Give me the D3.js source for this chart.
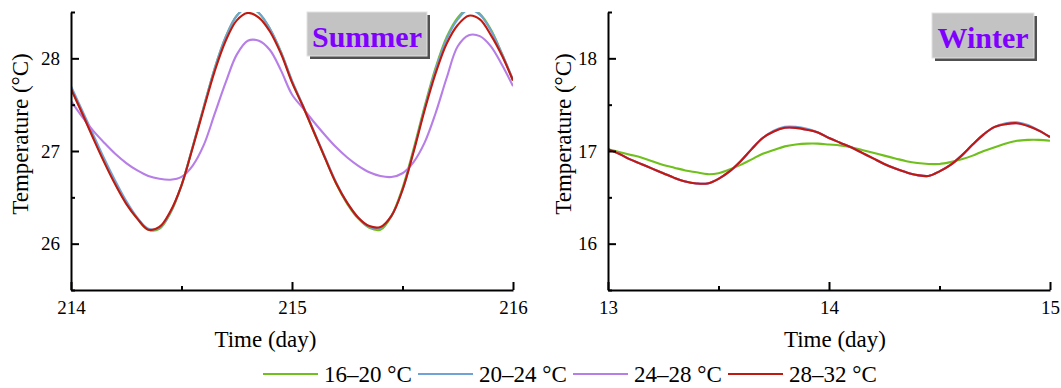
<!DOCTYPE html>
<html>
<head>
<meta charset="utf-8">
<script src="https://cdn.jsdelivr.net/npm/d3@7"></script>
<style>
  body { margin: 0; background: #fff; }
  svg { display: block; }
  text { font-family: "Liberation Serif", "Times New Roman", serif; fill: #000; }
</style>
</head>
<body>
<div id="app"></div>
<script>
const seriesNames = ["16\u201320 \u00b0C", "20\u201324 \u00b0C", "24\u201328 \u00b0C", "28\u201332 \u00b0C"];
const seriesColors = ["#6fc01c", "#6fa3d8", "#b67ee6", "#c01a10"];

// time grid, sampled every 0.05 day
const summerDays = d3.range(41).map(i => Math.round((214 + i * 0.05) * 100) / 100);
const winterDays = d3.range(41).map(i => Math.round((13 + i * 0.05) * 100) / 100);

const summer1620 = [27.68, 27.41, 27.15, 26.89, 26.65, 26.44, 26.27, 26.15, 26.16, 26.33, 26.63, 27.04, 27.47, 27.89, 28.23, 28.46, 28.55, 28.49, 28.32, 28.07, 27.75, 27.48, 27.20, 26.92, 26.65, 26.43, 26.27, 26.17, 26.15, 26.30, 26.60, 27.02, 27.48, 27.90, 28.23, 28.44, 28.54, 28.48, 28.31, 28.05, 27.76];
const summer2024 = [27.70, 27.44, 27.18, 26.92, 26.68, 26.46, 26.28, 26.16, 26.17, 26.34, 26.63, 27.04, 27.47, 27.89, 28.23, 28.46, 28.55, 28.49, 28.32, 28.07, 27.76, 27.49, 27.21, 26.93, 26.66, 26.44, 26.28, 26.18, 26.17, 26.30, 26.58, 27.00, 27.46, 27.88, 28.21, 28.42, 28.53, 28.47, 28.30, 28.05, 27.77];
const summer2428 = [27.54, 27.37, 27.22, 27.09, 26.97, 26.87, 26.79, 26.73, 26.70, 26.69, 26.72, 26.84, 27.06, 27.40, 27.74, 28.04, 28.19, 28.19, 28.09, 27.87, 27.61, 27.46, 27.31, 27.17, 27.04, 26.93, 26.84, 26.77, 26.73, 26.72, 26.76, 26.88, 27.09, 27.41, 27.79, 28.13, 28.25, 28.24, 28.13, 27.93, 27.70];
const summer2832 = [27.67, 27.41, 27.14, 26.88, 26.64, 26.43, 26.27, 26.15, 26.18, 26.35, 26.63, 27.03, 27.45, 27.86, 28.19, 28.41, 28.49, 28.44, 28.29, 28.05, 27.74, 27.48, 27.20, 26.92, 26.65, 26.44, 26.28, 26.19, 26.18, 26.30, 26.58, 26.99, 27.44, 27.84, 28.16, 28.36, 28.46, 28.42, 28.25, 28.03, 27.76];

const winter1620 = [17.02, 16.99, 16.96, 16.93, 16.89, 16.85, 16.82, 16.79, 16.77, 16.75, 16.76, 16.80, 16.85, 16.91, 16.97, 17.01, 17.05, 17.07, 17.08, 17.08, 17.07, 17.06, 17.04, 17.01, 16.98, 16.95, 16.92, 16.89, 16.87, 16.86, 16.86, 16.88, 16.91, 16.95, 17.00, 17.04, 17.08, 17.11, 17.12, 17.12, 17.11];
const winter2024 = [17.02, 16.97, 16.91, 16.86, 16.81, 16.76, 16.71, 16.67, 16.65, 16.65, 16.70, 16.78, 16.89, 17.02, 17.14, 17.22, 17.26, 17.26, 17.24, 17.20, 17.14, 17.09, 17.04, 16.98, 16.92, 16.86, 16.81, 16.77, 16.74, 16.73, 16.78, 16.85, 16.95, 17.07, 17.18, 17.26, 17.30, 17.31, 17.28, 17.22, 17.15];
const winter2428 = [17.02, 16.97, 16.91, 16.86, 16.81, 16.76, 16.71, 16.67, 16.65, 16.65, 16.70, 16.78, 16.89, 17.02, 17.14, 17.21, 17.25, 17.25, 17.23, 17.20, 17.14, 17.09, 17.04, 16.98, 16.92, 16.86, 16.81, 16.77, 16.74, 16.73, 16.78, 16.85, 16.95, 17.07, 17.18, 17.26, 17.29, 17.30, 17.27, 17.22, 17.15];
const winter2832 = [17.02, 16.97, 16.91, 16.86, 16.81, 16.76, 16.71, 16.67, 16.65, 16.65, 16.70, 16.78, 16.89, 17.02, 17.14, 17.21, 17.25, 17.25, 17.23, 17.20, 17.14, 17.09, 17.04, 16.98, 16.92, 16.86, 16.81, 16.77, 16.74, 16.73, 16.78, 16.85, 16.95, 17.07, 17.18, 17.26, 17.29, 17.30, 17.27, 17.22, 17.15];

const summerXTicks = [214, 215, 216];
const summerXMinor = [214.5, 215.5];
const summerYTicks = [26, 27, 28];
const summerYMinor = [25.5, 26.5, 27.5, 28.5];
const winterXTicks = [13, 14, 15];
const winterXMinor = [13.5, 14.5];
const winterYTicks = [16, 17, 18];
const winterYMinor = [15.5, 16.5, 17.5, 18.5];

const width = 1061, height = 388;
const plotTop = 12, plotBottom = 290;
const serif = "'Liberation Serif', 'Times New Roman', serif";

const svg = d3.select("#app").append("svg")
    .attr("width", width)
    .attr("height", height);

const panels = [
    {id: "summer", left: 71, right: 513, days: summerDays, series: [summer1620, summer2024, summer2428, summer2832],
     xDomain: [214, 216], yDomain: [25.5, 28.5], xTicks: summerXTicks, xMinor: summerXMinor, yTicks: summerYTicks, yMinor: summerYMinor,
     label: "Summer", box: [307, 12, 120, 44], yTitleX: 28, xTitleX: 265.5},
    {id: "winter", left: 608, right: 1050, days: winterDays, series: [winter1620, winter2024, winter2428, winter2832],
     xDomain: [13, 15], yDomain: [15.5, 18.5], xTicks: winterXTicks, xMinor: winterXMinor, yTicks: winterYTicks, yMinor: winterYMinor,
     label: "Winter", box: [932, 13, 102, 45], yTitleX: 571, xTitleX: 835}
];

const drawPanel = (p) => {
    const x = d3.scaleLinear().domain(p.xDomain).range([p.left, p.right]);
    const y = d3.scaleLinear().domain(p.yDomain).range([plotBottom, plotTop]);
    const g = svg.append("g").attr("id", p.id);

    g.append("clipPath").attr("id", `clip-${p.id}`)
        .append("rect")
        .attr("x", p.left).attr("y", plotTop)
        .attr("width", p.right - p.left).attr("height", plotBottom - plotTop);

    const line = d3.line()
        .x((d, i) => x(p.days[i]))
        .y(d => y(d))
        .curve(d3.curveCatmullRom.alpha(0.5));

    g.append("g").attr("clip-path", `url(#clip-${p.id})`)
        .selectAll("path")
        .data(p.series)
        .join("path")
        .attr("fill", "none")
        .attr("stroke", (d, i) => seriesColors[i])
        .attr("stroke-width", 2.1)
        .attr("d", line);

    // minor ticks
    g.append("g")
        .attr("transform", `translate(0,${plotBottom})`)
        .call(d3.axisBottom(x).tickValues(p.xMinor).tickSizeInner(-4).tickSizeOuter(0).tickFormat(""))
        .call(a => a.select(".domain").remove());
    g.append("g")
        .attr("transform", `translate(${p.left},0)`)
        .call(d3.axisLeft(y).tickValues(p.yMinor).tickSizeInner(-4).tickSizeOuter(0).tickFormat(""))
        .call(a => a.select(".domain").remove());

    const xAxis = g.append("g")
        .attr("transform", `translate(0,${plotBottom})`)
        .call(d3.axisBottom(x).tickValues(p.xTicks).tickSizeInner(-8).tickSizeOuter(0).tickPadding(11).tickFormat(d3.format("d")));
    const yAxis = g.append("g")
        .attr("transform", `translate(${p.left},0)`)
        .call(d3.axisLeft(y).tickValues(p.yTicks).tickSizeInner(-8).tickSizeOuter(0).tickPadding(11).tickFormat(d3.format("d")));

    [xAxis, yAxis].forEach(a => {
        a.attr("font-family", serif).attr("font-size", 19);
        a.selectAll("text").style("font-family", serif).style("font-size", "19px").attr("fill", "#000");
    });
    g.selectAll(".domain, .tick line").attr("stroke", "#000").attr("stroke-width", 2);

    g.append("text")
        .attr("transform", `translate(${p.yTitleX},134) rotate(-90)`)
        .attr("text-anchor", "middle")
        .style("font-size", "23px")
        .text("Temperature (\u00b0C)");

    g.append("text")
        .attr("x", p.xTitleX)
        .attr("y", 347)
        .attr("text-anchor", "middle")
        .style("font-size", "23px")
        .text("Time (day)");

    // season badge
    const [bx, by, bw, bh] = p.box;
    g.append("rect").attr("x", bx + 3).attr("y", by + 3).attr("width", bw).attr("height", bh).attr("fill", "#505050");
    g.append("rect").attr("x", bx).attr("y", by).attr("width", bw).attr("height", bh)
        .attr("fill", "#c3c3c3").attr("stroke", "#e2e2e2").attr("stroke-width", 1);
    g.append("text")
        .attr("x", bx + bw / 2)
        .attr("y", by + 34.5)
        .attr("text-anchor", "middle")
        .style("font-size", "30px")
        .style("font-weight", "bold")
        .style("fill", "#8000ff")
        .text(p.label);
};

panels.forEach(drawPanel);

const legend = svg.append("g").attr("transform", "translate(263,374)");
const item = legend.selectAll("g")
    .data(seriesNames)
    .join("g")
    .attr("transform", (d, i) => `translate(${i * 155},0)`);
item.append("line")
    .attr("x1", 0).attr("x2", 55)
    .attr("stroke", (d, i) => seriesColors[i])
    .attr("stroke-width", 2.2);
item.append("text")
    .attr("x", 61)
    .attr("y", 7.5)
    .style("font-size", "23px")
    .text(d => d);
</script>
</body>
</html>
